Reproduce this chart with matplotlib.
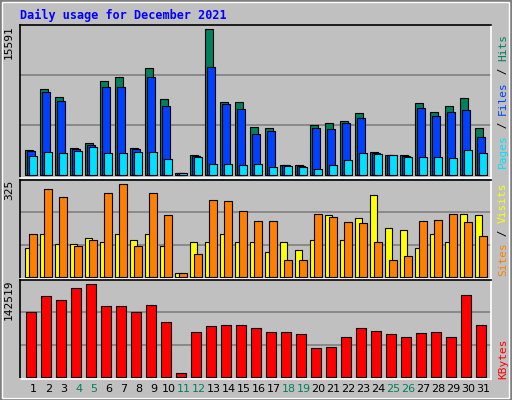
import matplotlib
matplotlib.use("Agg")
import matplotlib.pyplot as plt
from matplotlib.patches import Rectangle

days = list(range(1, 32))
weekend = {4, 5, 11, 12, 18, 19, 25, 26}

hits = [2680, 9240, 8395, 2890, 3420, 10090, 10510, 2890, 11460, 8180, 250, 2150, 15591,
        7865, 7865, 5115, 5010, 1095, 1095, 5325, 5540, 5750, 6595, 2470, 2150, 2150,
        7760, 6700, 7440, 8290, 5010]
files = [2575, 8925, 7970, 2785, 3210, 9450, 9450, 2785, 10510, 7440, 250, 2045, 11570,
         7550, 7020, 4375, 4690, 1095, 990, 5010, 4900, 5540, 6065, 2365, 2150, 2045,
         7125, 6280, 6700, 6910, 4055]
pages = [2080, 2470, 2365, 2575, 3000, 2365, 2365, 2470, 2470, 1730, 250, 1940, 1200,
         1200, 1095, 1200, 880, 990, 880, 670, 1095, 1620, 2365, 2260, 2150, 1940,
         1940, 1940, 1835, 2680, 2365]
sites = [103, 149, 114, 114, 135, 121, 152, 131, 149, 110, 15, 121, 124, 149, 124, 124,
         89, 121, 96, 128, 216, 131, 205, 286, 170, 163, 103, 149, 121, 219, 216]
visits = [149, 307, 279, 110, 131, 293, 325, 110, 293, 216, 15, 82, 269, 265, 230, 195,
          195, 61, 61, 219, 209, 191, 188, 121, 61, 75, 195, 198, 219, 191, 142]
kbytes = [100200, 125300, 119000, 136200, 142519, 109600, 109600, 100200, 111200, 84600,
          6260, 68900, 78300, 79900, 79900, 75200, 68900, 68900, 65800, 43800, 45400,
          61100, 75200, 70500, 65800, 61100, 67300, 68900, 61100, 126800, 79900]

BG = "#c0c0c0"
W, H = 512, 400
fig = plt.figure(figsize=(W / 100, H / 100), dpi=100, facecolor=BG)
mono = "DejaVu Sans Mono"

# bevelled outer border
fig.patches.append(Rectangle((0, 0), 1, 1, transform=fig.transFigure, fill=False,
                             edgecolor="#808080", lw=3))
fig.patches.append(Rectangle((0.004, 0.006), 0.99, 0.99, transform=fig.transFigure,
                             fill=False, edgecolor="white", lw=1))

PX = 1 / 15.0  # one pixel in day units
XL = (0.5, 0.5 + 471 * PX)


def panel(y_top, y_bot, top):
    ax = fig.add_axes([20 / W, (H - y_bot) / H, 471 / W, (y_bot - y_top) / H])
    ax.set_facecolor(BG)
    ax.set_xlim(*XL)
    ax.set_ylim(-0.02 * top, top)
    for g in (top / 3, 2 * top / 3):
        ax.axhline(g, color="#808080", lw=1.2, zorder=0)
    ax.set_xticks([])
    ax.set_yticks([])
    for s in ax.spines.values():
        s.set_color("black")
        s.set_linewidth(1.2)
    ax.spines["right"].set_color("white")
    ax.spines["bottom"].set_color("white")
    return ax


def bars(ax, vals, off, width, color):
    ax.bar([d - 0.5 + off * PX for d in days], vals, width=width * PX, align="edge",
           color=color, edgecolor="black", linewidth=0.8)


ax1 = panel(25, 178, max(hits) * 1.03)
bars(ax1, hits, 5, 7.5, "#00805c")
bars(ax1, files, 7, 7.5, "#0040ff")
bars(ax1, pages, 9, 7.5, "#00e0ff")

ax2 = panel(180, 279, max(visits) * 1.045)
bars(ax2, sites, 5, 7.3, "#ffff00")
bars(ax2, visits, 9.3, 7.3, "#ff8000")

ax3 = panel(280, 378.7, max(kbytes) * 1.047)
bars(ax3, kbytes, 6.3, 10, "#ff0000")

fig.text(20 / W, 1 - 15 / H, "Daily usage for December 2021", color="#0000ff",
         family=mono, weight="bold", fontsize=8.5, va="center")

for ax, val in ((ax1, max(hits)), (ax2, max(visits)), (ax3, max(kbytes))):
    ax.text(-6 / 471, 1.0, str(val), transform=ax.transAxes, rotation=90,
            ha="right", va="top", fontsize=8, family=mono)

for d in days:
    fig.text((20 + (d - 0.5 + 13.5 * PX - 0.5) * 15) / W, 1 - 389 / H, str(d),
             ha="center", va="center", fontsize=8,
             color="#00805c" if d in weekend else "black")

FS = 8
CW = FS * 0.602 * 100 / 72  # monospace char advance in pixels


def side_label(ax, parts):
    # stacked vertical label on the right, read bottom to top
    total = sum(len(p) for p, _ in parts)
    cw = CW / (ax.get_position().height * H)
    y = 0.5 - total * cw / 2
    for txt, col in parts:
        ax.text(1.015, y, txt, transform=ax.transAxes, rotation=90, ha="left",
                va="bottom", color=col, fontsize=FS, family=mono)
        y += len(txt) * cw


side_label(ax1, [("Pages", "#00e0ff"), (" / ", "black"), ("Files", "#0040ff"),
                 (" / ", "black"), ("Hits", "#00805c")])
side_label(ax2, [("Sites", "#ff8000"), (" / ", "black"), ("Visits", "#ffff00")])
ax3.text(1.015, 0.0, "KBytes", transform=ax3.transAxes, rotation=90, ha="left",
         va="bottom", color="#ff0000", fontsize=FS, family=mono)

fig.savefig("out.png", dpi=100, facecolor=BG)
